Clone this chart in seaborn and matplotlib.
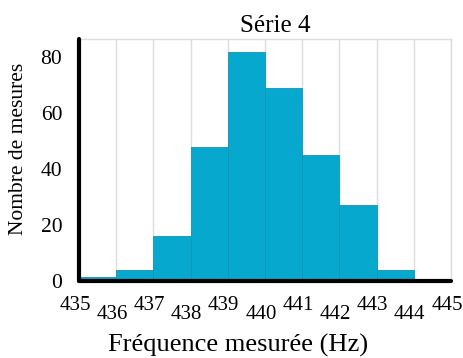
import numpy as np
import pandas as pd
import seaborn as sns
import matplotlib.pyplot as plt
import matplotlib.transforms as mtransforms

edges = [435, 436, 437, 438, 439, 440, 441, 442, 443, 444, 445]
counts = [1.5, 4, 16, 48, 82, 69, 45, 27, 4, 0]
yticks = [0, 20, 40, 60, 80]

df = pd.DataFrame({"freq": [e + 0.5 for e in edges[:-1]], "n": counts})

sns.set_style("white")
plt.rcParams["font.family"] = ["Liberation Serif", "DejaVu Serif"]
plt.rcParams["text.color"] = "black"
plt.rcParams["axes.labelcolor"] = "black"
plt.rcParams["xtick.color"] = "black"
plt.rcParams["ytick.color"] = "black"

fig = plt.figure(figsize=(4.64, 3.58), dpi=100)
ax = fig.add_axes([0.170, 0.215, 0.802, 0.676])

sns.histplot(data=df, x="freq", weights="n", bins=edges, ax=ax,
             color="#06A8CD", alpha=1, edgecolor="#1393B3", linewidth=0.6, zorder=2)

ax.set_xlim(435, 445)
ax.set_ylim(0, 86.5)
ax.set_xticks(edges)
ax.set_xticklabels([str(e) for e in edges], fontsize=15)
ax.set_yticks(yticks)
ax.set_yticklabels([str(t) for t in yticks], fontsize=15.5)

ax.tick_params(axis="x", length=0)
ax.tick_params(axis="y", length=7, width=3, color="black", pad=5)

# staggered x labels, nudged a bit left
for i, t in enumerate(ax.xaxis.get_major_ticks()):
    t.set_pad(11 if i % 2 == 0 else 17.5)
shift = mtransforms.ScaledTranslation(-4 / 100, 0, fig.dpi_scale_trans)
for lab in ax.get_xticklabels():
    lab.set_transform(lab.get_transform() + shift)

ax.xaxis.grid(True, color="#DDDDDD", linewidth=1, zorder=0)
ax.yaxis.grid(False)
ax.set_axisbelow(True)

for s in ["left", "bottom"]:
    ax.spines[s].set_linewidth(3)
    ax.spines[s].set_color("black")
    ax.spines[s].set_capstyle("round")
    ax.spines[s].set_zorder(5)
for s in ["top", "right"]:
    ax.spines[s].set_linewidth(1)
    ax.spines[s].set_color("#DDDDDD")

ax.set_title("Série 4", fontsize=18, pad=5, x=0.527)
ax.set_xlabel("Fréquence mesurée (Hz)", fontsize=19)
ax.xaxis.set_label_coords(0.427, -0.22)
ax.set_ylabel("Nombre de mesures", fontsize=15.5)
ax.yaxis.set_label_coords(-0.137, 0.545)

plt.savefig("out.png", dpi=100)
